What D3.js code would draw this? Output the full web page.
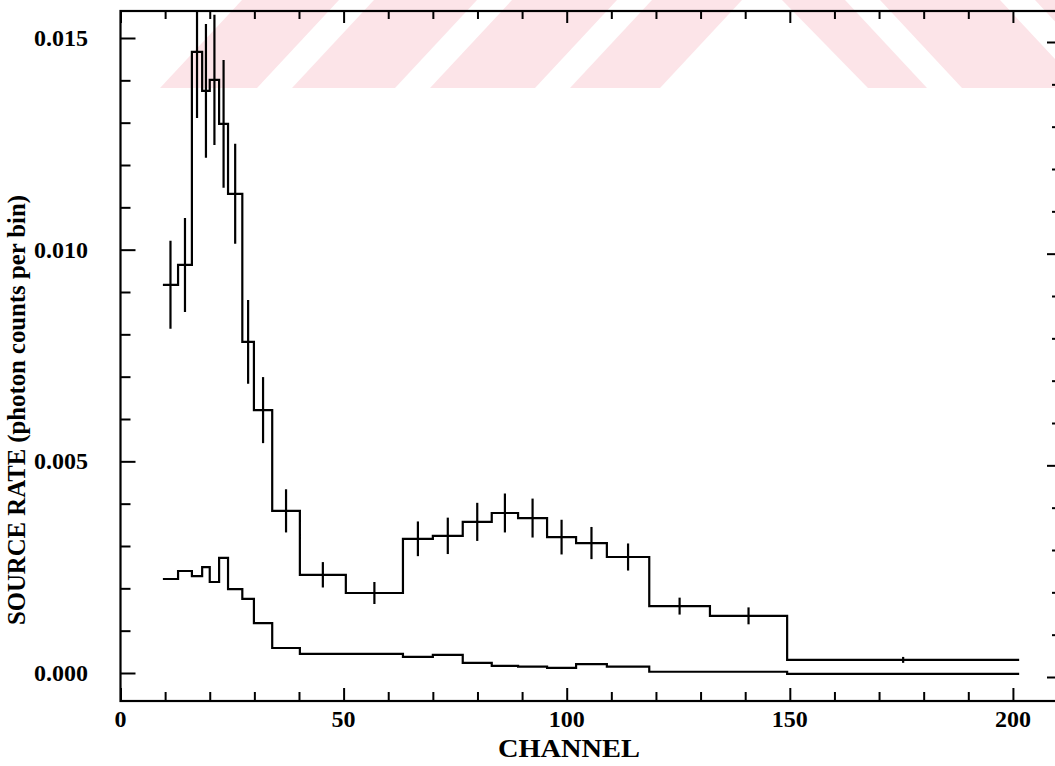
<!DOCTYPE html>
<html lang="en">
<head>
    <meta charset="UTF-8">
    <title>Source rate spectrum</title>
    <script src="https://cdn.jsdelivr.net/npm/d3@7"></script>
    <style>
        body { margin: 0; background: #fff; }
        svg { display: block; }
        .tick-label { font-family: "Liberation Serif", "Times New Roman", serif; font-weight: bold; font-size: 24px; fill: #000; }
        .axis-title { font-family: "Liberation Serif", "Times New Roman", serif; font-weight: bold; font-size: 25px; fill: #000; }
    </style>
</head>
<body>
<div id="container"></div>
<script>
    // bin edges in channels (shared by both spectra)
    const binEdges = [9.5, 12.9, 16.0, 18.3, 20.0, 22.1, 24.1, 27.3, 29.9, 34.0, 40.2, 50.5, 63.3,
        70.0, 76.7, 83.2, 89.1, 95.6, 102.1, 109.0, 118.5, 132.1, 149.4, 201.4];
    // source spectrum with 1-sigma errors
    const sourceRate = [0.00917, 0.00964, 0.01467, 0.01375, 0.01401, 0.01297, 0.01132, 0.00782, 0.00621,
        0.00383, 0.00232, 0.00189, 0.00317, 0.00324, 0.00357, 0.00378, 0.00366, 0.00321, 0.00307,
        0.00274, 0.00158, 0.00135, 0.00031];
    const sourceErr = [0.00104, 0.00111, 0.00156, 0.00158, 0.00154, 0.00151, 0.00118, 0.00099, 0.00078,
        0.00051, 0.00030, 0.00026, 0.00041, 0.00043, 0.00045, 0.00046, 0.00046, 0.00041, 0.00038,
        0.00032, 0.00020, 0.00020, 0.00007];
    // lower (background) spectrum
    const backRate = [0.00222, 0.00241, 0.00229, 0.00250, 0.00215, 0.00272, 0.00198, 0.00175, 0.00118,
        0.00059, 0.00045, 0.00045, 0.00038, 0.00043, 0.00024, 0.00017, 0.00015, 0.00012, 0.00021,
        0.00015, 0.00003, 0.00003, -0.00002];
    const xTickLabels = [0, 50, 100, 150, 200];
    const yTickLabels = [0.000, 0.005, 0.010, 0.015];

    const width = 1055, height = 766;
    const box = {left: 120.5, right: 1062, top: 11, bottom: 701};

    const svg = d3.select("#container")
        .append("svg")
        .attr("width", width)
        .attr("height", height);

    // faint pink watermark band at the top of the scan
    const wm = svg.append("g").attr("fill", "#fce4e8");
    const bandH = 88, slant = 82;
    const stripesL = [[160, 257], [292, 395], [430, 535], [570, 660]];
    stripesL.forEach(s => {
        wm.append("polygon")
            .attr("points", `${s[0]},${bandH} ${s[1]},${bandH} ${s[1] + slant},0 ${s[0] + slant},0`);
    });
    // stripes turning the other way on the right of the white peak
    const stripesR = [[782, 845], [880, 1000], [1035, 1120]];
    stripesR.forEach((s, i) => {
        const b0 = i === 0 ? 868 : s[0] + slant, b1 = s[1] + slant;
        wm.append("polygon")
            .attr("points", `${s[0]},0 ${s[1]},0 ${b1},${bandH} ${b0},${bandH}`);
    });

    // scales
    const x = d3.scaleLinear().domain([0, 211]).range([box.left, box.right]);
    const y = d3.scaleLinear().domain([0, 0.015]).range([673, 38]);

    svg.append("clipPath").attr("id", "plotClip")
        .append("rect")
        .attr("x", box.left).attr("y", box.top)
        .attr("width", box.right - box.left).attr("height", box.bottom - box.top);

    // frame
    svg.append("rect")
        .attr("x", box.left).attr("y", box.top)
        .attr("width", box.right - box.left).attr("height", box.bottom - box.top)
        .attr("fill", "none").attr("stroke", "#000").attr("stroke-width", 2.2);

    // axes: ticks every 10 channels, long every 50
    const xMinor = d3.range(0, 211, 10);
    const xAxisB = svg.append("g").attr("transform", `translate(0,${box.bottom})`);
    xAxisB.call(d3.axisTop(x).tickValues(xMinor).tickSize(0).tickFormat(""));
    xAxisB.selectAll(".tick line")
        .attr("y2", d => d % 50 === 0 ? -13 : -9)
        .attr("stroke", "#000").attr("stroke-width", 2);
    xAxisB.select(".domain").remove();

    const xAxisT = svg.append("g").attr("transform", `translate(0,${box.top})`);
    xAxisT.call(d3.axisBottom(x).tickValues(xMinor).tickSize(0).tickFormat(""));
    xAxisT.selectAll(".tick line")
        .attr("y2", d => d % 50 === 0 ? 12 : 8)
        .attr("stroke", "#000").attr("stroke-width", 2);
    xAxisT.select(".domain").remove();

    const yMinor = d3.range(0, 16).map(i => i * 0.001);
    const yAxisL = svg.append("g").attr("transform", `translate(${box.left},0)`);
    yAxisL.call(d3.axisRight(y).tickValues(yMinor).tickSize(0).tickFormat(""));
    yAxisL.selectAll(".tick line")
        .attr("x2", (d, i) => i % 5 === 0 ? 15 : 10)
        .attr("stroke", "#000").attr("stroke-width", 2);
    yAxisL.select(".domain").remove();

    const yAxisR = svg.append("g").attr("transform", `translate(${box.right},4)`);
    yAxisR.call(d3.axisLeft(y).tickValues(yMinor).tickSize(0).tickFormat(""));
    yAxisR.selectAll(".tick line")
        .attr("x2", (d, i) => i % 5 === 0 ? -15 : -10)
        .attr("stroke", "#000").attr("stroke-width", 2);
    yAxisR.select(".domain").remove();

    // tick labels
    svg.append("g").selectAll("text")
        .data(xTickLabels).enter()
        .append("text")
        .attr("class", "tick-label")
        .attr("x", d => x(d))
        .attr("y", 727)
        .attr("text-anchor", "middle")
        .text(d => d);

    svg.append("g").selectAll("text")
        .data(yTickLabels).enter()
        .append("text")
        .attr("class", "tick-label")
        .attr("x", 88)
        .attr("y", d => y(d) + 8)
        .attr("text-anchor", "end")
        .text(d => d3.format(".3f")(d));

    // axis titles
    svg.append("text")
        .attr("class", "axis-title")
        .attr("x", 569).attr("y", 757)
        .attr("text-anchor", "middle")
        .attr("textLength", 142)
        .attr("lengthAdjust", "spacingAndGlyphs")
        .text("CHANNEL");

    svg.append("text")
        .attr("class", "axis-title")
        .attr("transform", "translate(25,410) rotate(-90)")
        .attr("text-anchor", "middle")
        .attr("textLength", 430)
        .attr("lengthAdjust", "spacingAndGlyphs")
        .text("SOURCE  RATE (photon counts per bin)");

    // step histograms
    const stepLine = d3.line()
        .x(d => x(d.c))
        .y(d => y(d.v))
        .curve(d3.curveStepAfter);
    const toSteps = vals => binEdges.map((e, i) => ({c: e, v: vals[Math.min(i, vals.length - 1)]}));

    const plot = svg.append("g").attr("clip-path", "url(#plotClip)");

    plot.append("path")
        .attr("d", stepLine(toSteps(backRate)))
        .attr("fill", "none").attr("stroke", "#000").attr("stroke-width", 2.2);

    plot.append("path")
        .attr("d", stepLine(toSteps(sourceRate)))
        .attr("fill", "none").attr("stroke", "#000").attr("stroke-width", 2.2);

    // error bars at bin centres
    plot.selectAll(".err")
        .data(sourceRate.map((v, i) => ({c: (binEdges[i] + binEdges[i + 1]) / 2, v: v, e: sourceErr[i]})))
        .enter()
        .append("line")
        .attr("class", "err")
        .attr("x1", d => x(d.c)).attr("x2", d => x(d.c))
        .attr("y1", d => y(d.v - d.e)).attr("y2", d => y(d.v + d.e))
        .attr("stroke", "#000").attr("stroke-width", 2.2);
</script>
</body>
</html>
